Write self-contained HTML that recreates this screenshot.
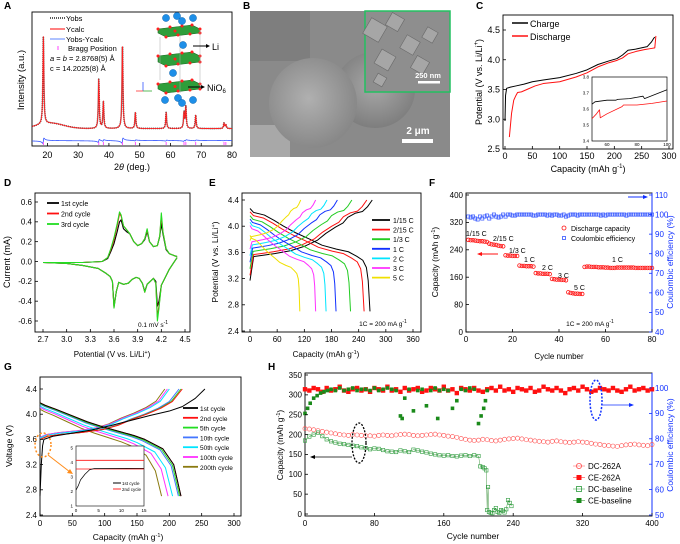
<!DOCTYPE html>
<html><head><meta charset="utf-8"><style>
html,body{margin:0;padding:0;background:#fff;}
svg{display:block;}
</style></head><body>
<svg id="fig" xmlns="http://www.w3.org/2000/svg" width="680" height="544" viewBox="0 0 680 544" font-family="Liberation Sans, sans-serif">
<defs>
<radialGradient id="sph1" cx="0.45" cy="0.45" r="0.6"><stop offset="0" stop-color="#b0b0b0"/><stop offset="1" stop-color="#858585"/></radialGradient>
<radialGradient id="sph2" cx="0.5" cy="0.45" r="0.6"><stop offset="0" stop-color="#a8a8a8"/><stop offset="1" stop-color="#7a7a7a"/></radialGradient>
</defs>
</svg>
<script>
// ---------- DATA ----------
// A: XRD
const xrdPeakPos=[18.7,36.7,38.2,44.4,48.6,58.6,64.4,65.0,68.2,77.4,78.0];
const xrdPeakH=[66,37,20,64,12,12,12,16,10,4,3];
const xrdBase=[13];
const xrdHumpAmp=[4];
const xrdDiff=[4];
// C: GITT
const cChgCap=[0,1,3,10,20,35,50,70,100,130,150,170,190,205,215,225,240,260,268,272,274];
const cChgV=[2.97,3.4,3.52,3.54,3.56,3.59,3.63,3.66,3.7,3.77,3.83,3.92,3.98,4.02,4.08,4.16,4.18,4.22,4.3,4.36,4.38];
const cDisCap=[8,12,16,20,23,30,40,55,70,100,130,150,170,190,205,215,225,240,255,268,274,276];
const cDisV=[2.7,3.1,3.32,3.4,3.45,3.46,3.5,3.56,3.6,3.63,3.71,3.78,3.88,3.95,3.99,4.03,4.1,4.14,4.17,4.19,4.2,4.4];
const cInChgCap=[50,52,60,66,67,75,84,85,100];
const cInChgV=[3.63,3.645,3.655,3.655,3.66,3.665,3.68,3.665,3.72];
const cInDisCap=[50,53,55,55.5,60,70,71,80,90,100];
const cInDisV=[3.54,3.57,3.595,3.545,3.57,3.615,3.625,3.625,3.635,3.65];
// D: CV
const dUpV=[2.7,3.2,3.45,3.52,3.56,3.6,3.64,3.67,3.69,3.72,3.76,3.8,3.85,3.9,3.95,3.99,4.02,4.05,4.1,4.15,4.18,4.2,4.22,4.26,4.3,4.36,4.4];
const dUpI1=[-0.01,-0.01,0.0,0.03,0.1,0.18,0.3,0.4,0.42,0.33,0.3,0.28,0.2,0.16,0.18,0.22,0.3,0.2,0.15,0.16,0.25,0.38,0.28,0.12,0.08,0.06,0.05];
const dUpI2=[-0.01,-0.01,0.0,0.04,0.12,0.22,0.36,0.48,0.46,0.36,0.32,0.28,0.2,0.16,0.18,0.23,0.32,0.2,0.15,0.16,0.26,0.46,0.3,0.13,0.08,0.06,0.05];
const dUpI3=[-0.01,-0.01,0.0,0.04,0.13,0.24,0.38,0.5,0.47,0.36,0.32,0.28,0.2,0.16,0.18,0.23,0.33,0.2,0.15,0.16,0.26,0.49,0.3,0.13,0.08,0.06,0.05];
const dLoV=[4.4,4.35,4.3,4.25,4.2,4.17,4.15,4.13,4.1,4.06,4.02,3.99,3.96,3.92,3.88,3.83,3.78,3.72,3.66,3.63,3.6,3.58,3.55,3.5,3.4,3.2,3.0,2.7];
const dLoI1=[0.04,-0.02,-0.08,-0.16,-0.24,-0.4,-0.45,-0.2,-0.17,-0.2,-0.23,-0.3,-0.22,-0.17,-0.16,-0.18,-0.22,-0.23,-0.21,-0.3,-0.45,-0.2,-0.15,-0.12,-0.07,-0.04,-0.02,-0.01];
const dLoI2=[0.04,-0.02,-0.08,-0.16,-0.24,-0.45,-0.56,-0.22,-0.17,-0.2,-0.23,-0.31,-0.22,-0.17,-0.16,-0.18,-0.22,-0.23,-0.21,-0.3,-0.46,-0.2,-0.15,-0.12,-0.07,-0.04,-0.02,-0.01];
const dLoI3=[0.04,-0.02,-0.08,-0.16,-0.24,-0.47,-0.6,-0.22,-0.17,-0.2,-0.23,-0.31,-0.22,-0.17,-0.16,-0.18,-0.22,-0.23,-0.21,-0.3,-0.47,-0.2,-0.15,-0.12,-0.07,-0.04,-0.02,-0.01];
// E: rate curves
const eRates=['1/15 C','2/15 C','1/3 C','1 C','2 C','3 C','5 C'];
const eChgStart=[3.52,3.55,3.6,3.65,3.7,3.75,3.83];
const eChgEnd=[270,258,225,193,170,145,112];
const eDisStart=[4.27,4.22,4.16,4.11,4.06,4.01,3.86];
const eDisEnd=[265,252,222,190,168,145,110];
const eChgShapeF=[0,0.03,0.1,0.2,0.33,0.45,0.55,0.62,0.7,0.76,0.8,0.86,0.92,0.96,1];
const eChgShapeV=[0,0.02,0.04,0.07,0.12,0.2,0.3,0.42,0.53,0.6,0.7,0.77,0.8,0.88,1];
const eDisShapeF=[0,0.03,0.12,0.2,0.28,0.38,0.5,0.6,0.72,0.82,0.89,0.94,0.97,0.985,1];
const eDisShapeV=[0,-0.06,-0.1,-0.18,-0.27,-0.37,-0.47,-0.56,-0.62,-0.66,-0.73,-0.79,-0.9,-1.1,-1.57];
// F: rate cycling
const fDC=[269,268,268,267,266,265,265,264,263,258,256,255,254,252,251,250,224,223,223,222,222,222,194,193,193,192,192,192,191,172,171,171,170,170,170,169,155,154,153,153,152,152,151,116,114,113,112,112,111,111,190,191,191,190,190,190,189,189,189,188,188,187,187,187,188,188,188,188,188,188,188,188,187,187,187,187,187,187,187,187];
const fCE=[99,98.5,99,98,97.5,99,98,99,99.5,98,99,100,99,98.5,99,100,99,100,100,99.5,99.5,100,100,100,100,100,100,100,99.5,99.5,100,100,100,100,99.5,100,99.5,100,100,99.5,99.5,100,99,99.5,100,100,100,99.5,100,100,100,100,100,100,100,100,100,99.5,100,99.5,100,100,100,100,100,100,100,100,99.5,100,100,100,100,100,100,100,100,100,100,100];
const fLabels=['1/15 C','2/15 C','1/3 C','1 C','2 C','3 C','5 C','1 C'];
// G: cycle curves
const gCycles=['1st cycle','2nd cycle','5th cycle','10th cycle','50th cycle','100th cycle','200th cycle'];
const gChgStartV=[3.6,3.6,3.6,3.6,3.62,3.63,3.63];
const gChgEnd=[255,220,218,215,200,197,193];
const gDisStartV=[4.18,4.18,4.17,4.16,4.13,4.11,4.08];
const gDisEnd=[218,218,216,214,205,198,188];
const gDisKnee=[162,162,160,158,150,145,140];
const gChgShapeF=[0,0.05,0.15,0.3,0.45,0.55,0.65,0.75,0.85,0.93,1];
const gChgShapeV=[0,0.06,0.1,0.14,0.2,0.28,0.4,0.5,0.62,0.75,1];
const gChg1Cap=[0,2,4,6,20,50,80,110,140,170,200,220,240,255];
const gChg1V=[2.7,3.2,3.5,3.6,3.65,3.7,3.75,3.82,3.9,3.98,4.05,4.12,4.25,4.4];
const gDisShapeF=[0,0.05,0.15,0.3,0.45,0.6,0.75,0.9,1];
const gDisShapeV=[0,-0.04,-0.1,-0.2,-0.3,-0.38,-0.45,-0.52,-0.58];
// H: long cycling
const hDC262=[215,214,212,210,208,206,204,202,200,199,198,200,199,198,197,197,196,198,199,198,197,199,200,201,200,198,197,198,199,200,201,199,198,196,195,193,190,188,186,185,186,188,187,185,184,186,188,189,190,191,189,187,186,184,183,182,181,183,184,182,181,180,181,182,181,180,178,176,175,173,172,171,170,172,174,175,176,174,173,172,175];
const hCE262=[99.5,99,100,99.5,98.5,100,99,99.5,100.5,99,98.5,99.5,100,99,99.5,98.5,100,99.5,99,100.5,99,99.5,98.5,100,99,99.5,100,98.5,99,100,99.5,99,100.5,99,99.5,98,100,99.5,99,100,99,98.5,99.5,100,99,100.5,99,99.5,98.5,100,99.5,99,100,98.5,99,100.5,99.5,99,100,99,98,99.5,100,99,100.5,99.5,98.5,99,100,99.5,99,100,99,98.5,99.5,100.5,99,99.5,100,99,99.5];
const hBaseCyc=[0,5,10,15,20,25,30,35,40,45,50,55,60,65,70,75,80,85,90,95,100,105,110,115,120,125,130,135,140,145,150,155,160,165,170,175,180,185,190,195,200,202,205,207,209,210,211,212,214,216,218,220,222,224,226,228,230,232,234,236,238];
const hBaseDC=[185,195,200,205,196,188,183,180,177,176,174,172,171,168,166,163,165,164,161,158,157,156,160,158,156,162,160,157,155,152,150,148,147,148,146,145,147,148,146,148,146,120,118,115,110,10,68,5,3,2,10,15,5,3,10,8,4,12,35,28,20];
const hCEbaseCyc=[0,3,6,10,14,18,22,26,30,35,40,45,50,55,60,65,70,75,80,85,90,95,100,105,110,112,115,120,125,130,135,140,145,150,153,155,160,165,170,175,180,185,190,195,200,203,206,208,210];
const hCEbase=[90,92,94,96,97,98,98.5,99,99.5,99,100,99,99.5,100,99,99.5,99.5,99,100,99,99.5,100,99.5,99,89,88,96,99.5,91,99,99.5,93,99,100,88,99,99.5,99,92,95,99.5,99,100,99.5,86,89,92,95,99];

// ---------- HELPERS ----------
const NS='http://www.w3.org/2000/svg';
const svg=document.getElementById('fig');
function mk(tag,attrs,name,parent){
  const e=document.createElementNS(NS,tag);
  for(const k in attrs) e.setAttribute(k,attrs[k]);
  
  
  (parent||svg).appendChild(e);
  return e;
}
function T(x,y,s,size,name,opts){
  const o={x:x,y:y,'font-size':size,fill:'#000'};
  if(opts) for(const k in opts) o[k]=opts[k];
  const e=mk('text',o,name);
  e.innerHTML=s;
  return e;
}
function lin(d0,d1,p0,p1){return v=>p0+(v-d0)/(d1-d0)*(p1-p0);}
function poly(xs,ys,sx,sy,color,w,name,extra){
  let p='';
  for(let i=0;i<xs.length;i++) p+=sx(xs[i]).toFixed(2)+','+sy(ys[i]).toFixed(2)+' ';
  const a={points:p,fill:'none',stroke:color,'stroke-width':w,'stroke-linejoin':'round'};
  if(extra) for(const k in extra) a[k]=extra[k];
  return mk('polyline',a,name);
}
function interp(fx,fy,f){
  for(let i=1;i<fx.length;i++){ if(f<=fx[i]){const t=(f-fx[i-1])/(fx[i]-fx[i-1]);return fy[i-1]+t*(fy[i]-fy[i-1]);} }
  return fy[fy.length-1];
}
function frame(x0,y0,x1,y1,name,stroke){
  mk('rect',{x:x0,y:y0,width:x1-x0,height:y1-y0,fill:'none',stroke:stroke||'#000','stroke-width':0.9},name);
}
function xTicks(vals,sx,yb,fs,name,labels,ly,yt){
  vals.forEach((v,i)=>{
    const x=sx(v);
    mk('line',{x1:x,y1:yb,x2:x,y2:yb-3,stroke:'#000','stroke-width':0.8},name+'-tick');
    if(yt!==undefined) mk('line',{x1:x,y1:yt,x2:x,y2:yt+3,stroke:'#000','stroke-width':0.8},name+'-tick-top');
    T(x,ly,labels?labels[i]:String(v),fs,name+'-label',{'text-anchor':'middle'});
  });
}
function yTicks(vals,sy,xl,fs,name,labels,lx,xr,color,anchor){
  vals.forEach((v,i)=>{
    const y=sy(v);
    mk('line',{x1:xl,y1:y,x2:xl+(anchor==='start'?-3:3),y2:y,stroke:color||'#000','stroke-width':0.8},name+'-tick');
    T(lx,y+fs*0.35,labels?labels[i]:String(v),fs,name+'-label',{'text-anchor':anchor||'end',fill:color||'#000'});
  });
}
function vlabel(x,y,s,fs,name,color){
  T(x,y,s,fs,name,{'text-anchor':'middle',transform:'rotate(-90 '+x+' '+y+')',fill:color||'#000'});
}

// ---------- PANEL LETTERS ----------
[['A',4,9],['B',243,9],['C',476,9],['D',4,186],['E',209,186],['F',429,186],['G',4,370],['H',268,370]].forEach(p=>{
  T(p[1],p[2],p[0],10,'panel-letter-'+p[0].toLowerCase(),{'font-weight':'bold'});
});

// ---------- PANEL A ----------
(function(){
  const sx=lin(15,80,32,232), sy=lin(0,100,146,12);
  frame(32,12,232,146,'xrd-plot-frame');
  const xs=[],yc=[],yd=[];
  for(let t=15;t<=80.001;t+=0.08){
    let I=xrdBase[0]+xrdHumpAmp[0]*Math.exp(-Math.pow((t-21)/6,2));
    let d=xrdDiff[0];
    xrdPeakPos.forEach((p,i)=>{const u=(t-p)/0.18;I+=xrdPeakH[i]/(1+u*u);d+=xrdPeakH[i]*0.06*(u/(1+u*u));});
    xs.push(t);yc.push(I);yd.push(d);
  }
  poly(xs,yc,sx,sy,'#333',1.6,'yobs-series',{'stroke-dasharray':'1,1'});
  poly(xs,yc,sx,sy,'#ff2020',0.9,'ycalc-series');
  poly(xs,yd,sx,sy,'#3355ff',0.8,'difference-series');
  xrdPeakPos.forEach(p=>{mk('line',{x1:sx(p),y1:142,x2:sx(p),y2:145,stroke:'#ff44ff','stroke-width':0.9},'bragg-position-tick');});
  xTicks([20,30,40,50,60,70,80],sx,146,9,'xrd-x-axis',null,158);
  T(132,170,'2<tspan font-style="italic">θ</tspan> (deg.)',9,'xrd-x-axis-title',{'text-anchor':'middle'});
  vlabel(24,80,'Intensity (a.u.)',9.5,'xrd-y-axis-title');
  // legend
  mk('line',{x1:50,y1:18,x2:65,y2:18,stroke:'#222','stroke-width':1.4,'stroke-dasharray':'1,1'},'legend-yobs-line');
  T(66,21,'Yobs',7.5,'legend-yobs');
  mk('line',{x1:50,y1:29,x2:65,y2:29,stroke:'#ff5555','stroke-width':1.5},'legend-ycalc-line');
  T(66,32,'Ycalc',7.5,'legend-ycalc');
  mk('line',{x1:50,y1:39,x2:65,y2:39,stroke:'#7799ff','stroke-width':1.2},'legend-diff-line');
  T(66,42,'Yobs-Ycalc',7.5,'legend-diff');
  mk('line',{x1:58,y1:46,x2:58,y2:50,stroke:'#ff44ff','stroke-width':1},'legend-bragg-mark');
  T(68,51,'Bragg Position',7.5,'legend-bragg');
  T(50,61,'<tspan font-style="italic">a</tspan> = <tspan font-style="italic">b</tspan> = 2.8768(5) Å',7.5,'lattice-a');
  T(50,71,'c = 14.2025(8) Å',7.5,'lattice-c');
  // crystal
  const g='#2e9e3a';
  [[25,37],[52,66],[80,93]].forEach((l,i)=>{
    mk('polygon',{points:`158,${l[0]+4} 192,${l[0]} 200,${l[0]+4} 200,${l[1]-4} 166,${l[1]} 158,${l[1]-4}`,fill:g,stroke:'#1a6a22','stroke-width':0.6},'nio6-layer');
    [[158,l[0]+4],[170,l[0]+2],[182,l[0]+1],[192,l[0]],[200,l[0]+4],[166,l[1]],[178,l[1]-2],[190,l[1]-3],[200,l[1]-4],[175,(l[0]+l[1])/2]].forEach(o=>{
      mk('circle',{cx:o[0],cy:o[1],r:1.5,fill:'#ff2020'},'oxygen-atom');
    });
  });
  [[160,37,160,80],[200,30,200,88],[180,36,180,93]].forEach(v=>mk('line',{x1:v[0],y1:v[1],x2:v[2],y2:v[3],stroke:'#aaa','stroke-width':0.5},'unit-cell-edge'));
  [[166,18],[177,16],[182,21],[193,18],[183,45],[173,73],[165,100],[178,98],[182,103],[193,100]].forEach(c=>{
    mk('circle',{cx:c[0],cy:c[1],r:3.6,fill:'#1e8fe8',stroke:'#0a5aa0','stroke-width':0.4},'li-atom');
  });
  mk('line',{x1:193,y1:46,x2:208,y2:46,stroke:'#000','stroke-width':1},'li-arrow');
  mk('polygon',{points:'210,46 206,44 206,48',fill:'#000'},'li-arrowhead');
  T(212,50,'Li',9,'li-label');
  mk('line',{x1:188,y1:87,x2:203,y2:87,stroke:'#000','stroke-width':1},'nio6-arrow');
  mk('polygon',{points:'205,87 201,85 201,89',fill:'#000'},'nio6-arrowhead');
  T(207,91,'NiO<tspan font-size="6" dy="2">6</tspan>',9,'nio6-label');
  mk('line',{x1:143,y1:91,x2:143,y2:82,stroke:'#3355ff','stroke-width':0.8},'axis-icon-c');
  mk('line',{x1:143,y1:91,x2:152,y2:91,stroke:'#33aa33','stroke-width':0.8},'axis-icon-b');
  mk('line',{x1:143,y1:91,x2:136,y2:91,stroke:'#ff3333','stroke-width':0.8},'axis-icon-a');
})();

// ---------- PANEL B ----------
(function(){
  mk('rect',{x:250,y:11,width:200,height:146,fill:'#8a8a8a'},'sem-image');
  mk('rect',{x:250,y:11,width:60,height:50,fill:'#7a7a7a',opacity:0.8},'sem-bg-particle');
  mk('rect',{x:250,y:125,width:40,height:32,fill:'#a8a8a8'},'sem-bg-particle');
  mk('ellipse',{cx:375,cy:90,rx:40,ry:38,fill:'url(#sph2)'},'sem-particle-right');
  mk('ellipse',{cx:313,cy:103,rx:44,ry:45,fill:'url(#sph1)'},'sem-particle-main');
  mk('rect',{x:365,y:11,width:85,height:81,fill:'#8e8e8e',stroke:'#22c060','stroke-width':1.5},'sem-inset');
  [[375,30,18],[395,22,14],[410,45,15],[385,60,16],[430,35,12],[420,65,14],[380,80,10]].forEach(c=>{
    mk('rect',{x:c[0]-c[2]/2,y:c[1]-c[2]/2,width:c[2],height:c[2],fill:'#a6a6a6',stroke:'#6a6a6a','stroke-width':0.6,transform:`rotate(30 ${c[0]} ${c[1]})`},'sem-inset-crystal');
  });
  T(428,78,'250 nm',7.5,'inset-scale-label',{'text-anchor':'middle',fill:'#fff','font-weight':'bold'});
  mk('rect',{x:418,y:81,width:22,height:2.5,fill:'#fff'},'inset-scale-bar');
  T(418,134,'2 μm',10,'scale-label',{'text-anchor':'middle',fill:'#fff','font-weight':'bold'});
  mk('rect',{x:402,y:139,width:31,height:4,fill:'#fff'},'scale-bar');
})();

// ---------- PANEL C ----------
(function(){
  const sx=lin(0,300,505,669), sy=lin(2.5,4.5,149,30);
  frame(503,15,673,149,'gitt-plot-frame');
  poly(cChgCap,cChgV,sx,sy,'#000',1,'charge-series');
  poly(cDisCap,cDisV,sx,sy,'#ff1010',1,'discharge-series');
  xTicks([0,50,100,150,200,250,300],sx,149,9,'gitt-x-axis',null,159);
  yTicks([2.5,3.0,3.5,4.0,4.5],sy,503,9,'gitt-y-axis',['2.5','3.0','3.5','4.0','4.5'],500);
  T(588,172,'Capacity (mAh g<tspan font-size="6" dy="-4">-1</tspan><tspan dy="4">)</tspan>',9,'gitt-x-axis-title',{'text-anchor':'middle'});
  vlabel(482,82,'Potential (V vs. Li/Li<tspan font-size="6" dy="-4">+</tspan><tspan dy="4">)</tspan>',9,'gitt-y-axis-title');
  mk('line',{x1:512,y1:23,x2:528,y2:23,stroke:'#000','stroke-width':1.5},'legend-charge-line');
  T(530,27,'Charge',9,'legend-charge');
  mk('line',{x1:512,y1:36,x2:528,y2:36,stroke:'#ff1010','stroke-width':1.5},'legend-discharge-line');
  T(530,40,'Discharge',9,'legend-discharge');
  // inset
  const ix=lin(50,100,592,667), iy=lin(3.4,3.8,141,77);
  mk('rect',{x:592,y:77,width:75,height:64,fill:'#fff',stroke:'#000','stroke-width':0.7},'gitt-inset-frame');
  poly(cInChgCap,cInChgV,ix,iy,'#000',0.8,'inset-charge-series');
  poly(cInDisCap,cInDisV,ix,iy,'#ff1010',0.8,'inset-discharge-series');
  [60,80,100].forEach(v=>T(ix(v),146,String(v),4.5,'inset-x-label',{'text-anchor':'middle'}));
  [3.4,3.5,3.6,3.7,3.8].forEach(v=>T(589,iy(v)+1.5,v.toFixed(1),4.5,'inset-y-label',{'text-anchor':'end'}));
})();

// ---------- PANEL D ----------
(function(){
  const sx=lin(2.7,4.5,43,185), sy=lin(-0.6,0.6,321,202);
  frame(35,193,190,332,'cv-plot-frame');
  const cols=['#000','#ff1010','#22dd22'];
  const up=[dUpI1,dUpI2,dUpI3], lo=[dLoI1,dLoI2,dLoI3];
  for(let c=0;c<3;c++){
    poly(dUpV,up[c],sx,sy,cols[c],1.1,'cv-cycle-'+(c+1)+'-anodic');
    poly(dLoV,lo[c],sx,sy,cols[c],1.1,'cv-cycle-'+(c+1)+'-cathodic');
  }
  xTicks([2.7,3.0,3.3,3.6,3.9,4.2,4.5],sx,332,8,'cv-x-axis',['2.7','3.0','3.3','3.6','3.9','4.2','4.5'],342);
  yTicks([-0.6,-0.4,-0.2,0,0.2,0.4,0.6],sy,35,8,'cv-y-axis',['-0.6','-0.4','-0.2','0.0','0.2','0.4','0.6'],32);
  T(112,357,'Potential (V vs. Li/Li<tspan font-size="5.5" dy="-3">+</tspan><tspan dy="3">)</tspan>',8,'cv-x-axis-title',{'text-anchor':'middle'});
  vlabel(10,262,'Current (mA)',9,'cv-y-axis-title');
  ['1st cycle','2nd cycle','3rd cycle'].forEach((s,i)=>{
    mk('line',{x1:47,y1:203+i*10.5,x2:59,y2:203+i*10.5,stroke:cols[i],'stroke-width':1.8},'legend-cv-line');
    T(61,206+i*10.5,s,7,'legend-cv-'+(i+1));
  });
  T(153,327,'0.1 mV s<tspan font-size="5" dy="-3">-1</tspan>',6.5,'scan-rate-label',{'text-anchor':'middle'});
})();

// ---------- PANEL E ----------
(function(){
  const sx=lin(0,360,250,413), sy=lin(2.4,4.4,331,200);
  frame(242,193,421,332,'rate-curves-frame');
  const cols=['#000','#ff1010','#22cc22','#1030ff','#00e5ff','#ff30ff','#f0e000'];
  for(let r=0;r<eRates.length;r++){
    const cx=[],cy=[],dx=[],dy=[];
    eChgShapeF.forEach((f,i)=>{cx.push(f*eChgEnd[r]);cy.push(eChgStart[r]+eChgShapeV[i]*(4.4-eChgStart[r]));});
    cy[0]=cy[0]-0.35+0.05*r; 
    eDisShapeF.forEach((f,i)=>{dx.push(f*eDisEnd[r]);dy.push(Math.max(2.7,eDisStart[r]+eDisShapeV[i]*(eDisStart[r]-2.7)/1.57));});
    poly(cx,cy,sx,sy,cols[r],1,'charge-curve-'+(r+1));
    poly(dx,dy,sx,sy,cols[r],1,'discharge-curve-'+(r+1));
    mk('line',{x1:372,y1:220+r*9.6,x2:390,y2:220+r*9.6,stroke:cols[r],'stroke-width':1.8},'legend-rate-line');
    T(393,223+r*9.6,eRates[r],7,'legend-rate-'+(r+1));
  }
  xTicks([0,60,120,180,240,300,360],sx,332,8,'rate-x-axis',null,342);
  yTicks([2.4,2.8,3.2,3.6,4.0,4.4],sy,242,8,'rate-y-axis',['2.4','2.8','3.2','3.6','4.0','4.4'],239);
  T(326,357,'Capacity (mAh g<tspan font-size="5.5" dy="-3">-1</tspan><tspan dy="3">)</tspan>',8,'rate-x-axis-title',{'text-anchor':'middle'});
  vlabel(218,262,'Potential (V vs. Li/Li<tspan font-size="5.5" dy="-3">+</tspan><tspan dy="3">)</tspan>',8.5,'rate-y-axis-title');
  T(383,326,'1C = 200 mA g<tspan font-size="5" dy="-3">-1</tspan>',6.5,'rate-definition',{'text-anchor':'middle'});
})();

// ---------- PANEL F ----------
(function(){
  const sx=lin(0,80,466,652), sy=lin(0,400,332,195), sr=lin(40,110,332,195);
  frame(466,193,652,332,'rate-cycling-frame');
  mk('line',{x1:652,y1:193,x2:652,y2:332,stroke:'#1030ff','stroke-width':1},'ce-axis-line');
  fCE.forEach((v,i)=>mk('rect',{x:sx(i+1)-1.6,y:sr(v)-1.6,width:3.2,height:3.2,fill:'none',stroke:'#3355ff','stroke-width':0.7},'ce-point'));
  fDC.forEach((v,i)=>mk('circle',{cx:sx(i+1),cy:sy(v),r:1.8,fill:'none',stroke:'#ff1010','stroke-width':0.8},'capacity-point'));
  xTicks([0,20,40,60,80],sx,332,8,'rc-x-axis',null,342);
  yTicks([0,80,160,240,320,400],sy,466,8,'rc-y-axis',null,463);
  yTicks([40,50,60,70,80,90,100,110],sr,652,8,'rc-y2-axis',null,655,null,'#1030ff','start');
  T(559,359,'Cycle number',8,'rc-x-axis-title',{'text-anchor':'middle'});
  vlabel(438,262,'Capacity (mAh g<tspan font-size="5.5" dy="-3">-1</tspan><tspan dy="3">)</tspan>',8.5,'rc-y-axis-title');
  vlabel(673,262,'Coulombic efficiency (%)',8.5,'rc-y2-axis-title','#1030ff');
  const lp=[[466,236],[493,241],[509,253],[524,262],[542,270],[558,278],[574,290],[612,262]];
  fLabels.forEach((s,i)=>T(lp[i][0],lp[i][1],s,7,'rate-label-'+(i+1)));
  mk('circle',{cx:564,cy:228,r:2,fill:'none',stroke:'#ff1010','stroke-width':0.8},'legend-capacity-marker');
  T(571,231,'Discharge capacity',7,'legend-capacity');
  mk('rect',{x:562.5,y:236.5,width:3,height:3,fill:'none',stroke:'#3355ff','stroke-width':0.8},'legend-ce-marker');
  T(571,241,'Coulombic efficiency',7,'legend-ce');
  mk('line',{x1:628,y1:197,x2:644,y2:197,stroke:'#1030ff','stroke-width':1},'ce-arrow');
  mk('polygon',{points:'648,197 643,195 643,199',fill:'#1030ff'},'ce-arrowhead');
  mk('line',{x1:481,y1:254,x2:498,y2:254,stroke:'#ff1010','stroke-width':1},'capacity-arrow');
  mk('polygon',{points:'477,254 482,252 482,256',fill:'#ff1010'},'capacity-arrowhead');
  T(590,326,'1C = 200 mA g<tspan font-size="5" dy="-3">-1</tspan>',6.5,'rc-rate-definition',{'text-anchor':'middle'});
})();

// ---------- PANEL G ----------
(function(){
  const sx=lin(0,300,40,234), sy=lin(2.4,4.4,515,389);
  frame(40,377,241,516,'cycle-curves-frame');
  const cols=['#000','#ff1010','#22dd22','#4477ff','#00e5ff','#ff30ff','#8a7a10'];
  for(let c=gCycles.length-1;c>=0;c--){
    const cx=[],cy=[],dx=[],dy=[];
    if(c===0){gChg1Cap.forEach((v,i)=>{cx.push(v);cy.push(gChg1V[i]);});}
    else gChgShapeF.forEach((f,i)=>{cx.push(f*gChgEnd[c]);cy.push(gChgStartV[c]+gChgShapeV[i]*(4.4-gChgStartV[c]));});
    gDisShapeF.forEach((f,i)=>{dx.push(f*gDisKnee[c]);dy.push(gDisStartV[c]+gDisShapeV[i]);});
    const vk=dy[dy.length-1];
    dx.push(gDisKnee[c]+(gDisEnd[c]-gDisKnee[c])*0.5);dy.push(vk-0.15);
    dx.push(gDisKnee[c]+(gDisEnd[c]-gDisKnee[c])*0.8);dy.push(vk-0.4);
    dx.push(gDisEnd[c]);dy.push(2.7);
    poly(cx,cy,sx,sy,cols[c],1,'charge-curve-'+(c+1));
    poly(dx,dy,sx,sy,cols[c],1,'discharge-curve-'+(c+1));
  }
  gCycles.forEach((s,i)=>{
    mk('line',{x1:183,y1:408+i*9.8,x2:198,y2:408+i*9.8,stroke:cols[i],'stroke-width':1.8},'legend-cycle-line');
    T(200,411+i*9.8,s,6.5,'legend-cycle-'+(i+1));
  });
  xTicks([0,50,100,150,200,250,300],sx,516,8,'cc-x-axis',null,526);
  yTicks([2.4,2.8,3.2,3.6,4.0,4.4],sy,40,8,'cc-y-axis',['2.4','2.8','3.2','3.6','4.0','4.4'],37);
  T(128,540,'Capacity (mAh g<tspan font-size="5.5" dy="-3">-1</tspan><tspan dy="3">)</tspan>',8.5,'cc-x-axis-title',{'text-anchor':'middle'});
  vlabel(12,446,'Voltage (V)',8.5,'cc-y-axis-title');
  mk('ellipse',{cx:43,cy:445,rx:8,ry:12,fill:'none',stroke:'#ff8c1a','stroke-width':1.5,'stroke-dasharray':'2,2'},'highlight-ellipse');
  mk('line',{x1:48,y1:455,x2:70,y2:472,stroke:'#ff8c1a','stroke-width':1},'highlight-arrow');
  mk('polygon',{points:'73,474 67,473 70,469',fill:'#ff8c1a'},'highlight-arrowhead');
  // inset
  const ix=lin(0,15,76,144), iy=lin(1,5,506,448);
  mk('rect',{x:76,y:446,width:68,height:60,fill:'#fff',stroke:'#000','stroke-width':0.6},'cc-inset-frame');
  mk('line',{x1:ix(0),y1:iy(4.15),x2:ix(15),y2:iy(4.15),stroke:'#ff1010','stroke-width':0.8},'inset-2nd-charge');
  mk('line',{x1:ix(0),y1:iy(3.55),x2:ix(15),y2:iy(3.55),stroke:'#ff1010','stroke-width':0.8},'inset-2nd-discharge');
  poly([0,0.5,1,2,3,4,15],[2.1,2.4,2.8,3.2,3.5,3.58,3.6],ix,iy,'#000',0.7,'inset-1st-cycle');
  [0,5,10,15].forEach(v=>T(ix(v),512,String(v),4.5,'inset-x-label',{'text-anchor':'middle'}));
  [1,2,3,4,5].forEach(v=>T(73,iy(v)+1.5,String(v),4.5,'inset-y-label',{'text-anchor':'end'}));
  mk('line',{x1:113,y1:483,x2:121,y2:483,stroke:'#000','stroke-width':1},'inset-legend-1st');
  T(122,485,'1st cycle',4.5,'inset-legend-1st-label');
  mk('line',{x1:113,y1:489,x2:121,y2:489,stroke:'#ff7070','stroke-width':1.5},'inset-legend-2nd');
  T(122,491,'2nd cycle',4.5,'inset-legend-2nd-label');
})();

// ---------- PANEL H ----------
(function(){
  const sx=lin(0,400,305,652), sy=lin(0,350,514,375), sr=lin(50,100,515,388);
  frame(305,373,652,516,'long-cycling-frame');
  mk('line',{x1:652,y1:373,x2:652,y2:516,stroke:'#1030ff','stroke-width':1},'h-ce-axis-line');
  const step=400/(hDC262.length-1);
  hCE262.forEach((v,i)=>mk('rect',{x:sx(i*step)-2.2,y:sr(v)-2.2,width:4.4,height:4.4,fill:'#ff1010'},'ce-262a-point'));
  hCEbase.forEach((v,i)=>mk('rect',{x:sx(hCEbaseCyc[i])-1.8,y:sr(v)-1.8,width:3.6,height:3.6,fill:'#1a8a1a'},'ce-baseline-point'));
  hDC262.forEach((v,i)=>mk('circle',{cx:sx(i*step),cy:sy(v),r:2.1,fill:'none',stroke:'#ff5050','stroke-width':0.6},'dc-262a-point'));
  poly(hBaseCyc,hBaseDC,sx,sy,'#4a9a4a',0.5,'dc-baseline-line');
  hBaseDC.forEach((v,i)=>mk('rect',{x:sx(hBaseCyc[i])-1.7,y:sy(v)-1.7,width:3.4,height:3.4,fill:'none',stroke:'#2a9a3a','stroke-width':0.6},'dc-baseline-point'));
  xTicks([0,80,160,240,320,400],sx,516,8,'h-x-axis',null,526);
  yTicks([0,50,100,150,200,250,300,350],sy,305,8,'h-y-axis',null,302);
  yTicks([50,60,70,80,90,100],sr,652,8,'h-y2-axis',null,655,null,'#1030ff','start');
  T(473,539,'Cycle number',8.5,'h-x-axis-title',{'text-anchor':'middle'});
  vlabel(283,445,'Capacity (mAh g<tspan font-size="5.5" dy="-3">-1</tspan><tspan dy="3">)</tspan>',8.5,'h-y-axis-title');
  vlabel(673,445,'Coulombic efficiency (%)',8.5,'h-y2-axis-title','#1030ff');
  mk('ellipse',{cx:359,cy:443,rx:7,ry:20,fill:'none',stroke:'#000','stroke-width':1.3,'stroke-dasharray':'2,1.5'},'capacity-group-ellipse');
  mk('line',{x1:352,y1:457,x2:314,y2:457,stroke:'#000','stroke-width':0.8},'capacity-group-arrow');
  mk('polygon',{points:'310,457 315,455 315,459',fill:'#000'},'capacity-group-arrowhead');
  mk('ellipse',{cx:596,cy:400,rx:6,ry:20,fill:'none',stroke:'#1030ff','stroke-width':1.5,'stroke-dasharray':'2,1.5'},'ce-group-ellipse');
  mk('line',{x1:602,y1:405,x2:630,y2:405,stroke:'#1030ff','stroke-width':0.8},'ce-group-arrow');
  mk('polygon',{points:'634,405 629,403 629,407',fill:'#1030ff'},'ce-group-arrowhead');
  const leg=[['DC-262A','c','#ff5050'],['CE-262A','f','#ff1010'],['DC-baseline','o','#2a9a3a'],['CE-baseline','s','#1a8a1a']];
  leg.forEach((l,i)=>{
    const y=466+i*11.5;
    mk('line',{x1:573,y1:y,x2:585,y2:y,stroke:l[2],'stroke-width':0.5},'legend-h-line');
    if(l[1]==='c') mk('circle',{cx:579,cy:y,r:2.6,fill:'none',stroke:l[2],'stroke-width':0.8},'legend-h-marker');
    else if(l[1]==='o') mk('rect',{x:576.5,y:y-2.5,width:5,height:5,fill:'none',stroke:l[2],'stroke-width':0.8},'legend-h-marker');
    else mk('rect',{x:576.5,y:y-2.5,width:5,height:5,fill:l[2]},'legend-h-marker');
    T(588,y+3,l[0],8,'legend-h-'+(i+1));
  });
})();
</script>
</body></html>
